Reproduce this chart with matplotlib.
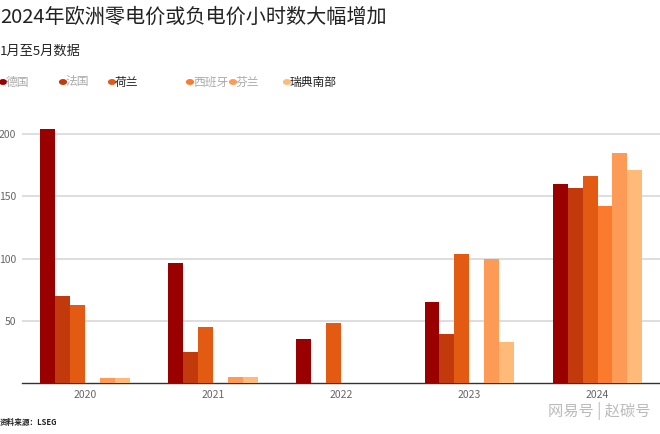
import matplotlib.pyplot as plt
import numpy as np

plt.rcParams['font.family'] = ['Noto Sans CJK SC', 'DejaVu Sans']

years = ["2020", "2021", "2022", "2023", "2024"]
countries = ["德国", "法国", "荷兰", "西班牙", "芬兰", "瑞典南部"]
germany = [204, 96, 35, 65, 160]
france = [70, 25, 0, 39, 157]
netherlands = [63, 45, 48, 104, 166]
spain = [0, 0, 0, 0, 142]
finland = [4, 5, 0, 100, 185]
sweden_south = [4, 5, 0, 33, 171]
colors = ["#9b0000", "#c23a0c", "#e35b13", "#fb7a2e", "#fd9a55", "#fdba78"]

series = [germany, france, netherlands, spain, finland, sweden_south]

fig = plt.figure(figsize=(6.6, 4.34), dpi=100)
ax = fig.add_axes([0.033, 0.1175, 0.967, 0.6024])

x = np.arange(len(years))
w = 0.117
for i, vals in enumerate(series):
    ax.bar(x + (i - 2.5) * w, vals, width=w, color=colors[i], zorder=3)

ax.set_xlim(-0.496, 4.488)
ax.set_ylim(0, 210)
ax.set_yticks([50, 100, 150, 200])
ax.set_xticks(x)
ax.set_xticklabels(years)
ax.grid(axis="y", color="#d8d8dc", linewidth=1.2, zorder=0)
for s in ["top", "right", "left"]:
    ax.spines[s].set_visible(False)
ax.spines["bottom"].set_color("#333333")
ax.spines["bottom"].set_linewidth(1.0)
ax.tick_params(axis="both", length=0, labelsize=7.5, colors="#666666")
ax.tick_params(axis="y", pad=4)
ax.tick_params(axis="x", pad=5)

# title / subtitle
fig.text(0.0, 0.96, "2024年欧洲零电价或负电价小时数大幅增加", fontsize=14.5, color="#222222",
         va="center", ha="left")
fig.text(0.0, 0.882, "1月至5月数据", fontsize=9.5, color="#222222", va="center", ha="left",
         fontweight="medium")

# legend
leg_x = [3, 63, 112, 190, 233, 287]
label_colors = ["#aaaaaa", "#aaaaaa", "#222222", "#aaaaaa", "#aaaaaa", "#222222"]
for i, name in enumerate(countries):
    fx = leg_x[i] / 660
    fig.patches.append(plt.Circle((fx, 1 - 82 / 434), 3.4 / 660, transform=fig.transFigure,
                                  color=colors[i], figure=fig))
    fig.text(fx + 3 / 660, 1 - 82 / 434, name, fontsize=8.5, color=label_colors[i],
             va="center", ha="left")

# footer
fig.text(0.0, 1 - 422 / 434, "资料来源：LSEG", fontsize=5.5, color="#222222", fontweight="bold",
         va="center", ha="left")
fig.text(650 / 660, 1 - 411 / 434, "网易号 | 赵碳号", fontsize=11, color="#bbbbbb",
         va="center", ha="right")

fig.savefig("out.png", dpi=100)
